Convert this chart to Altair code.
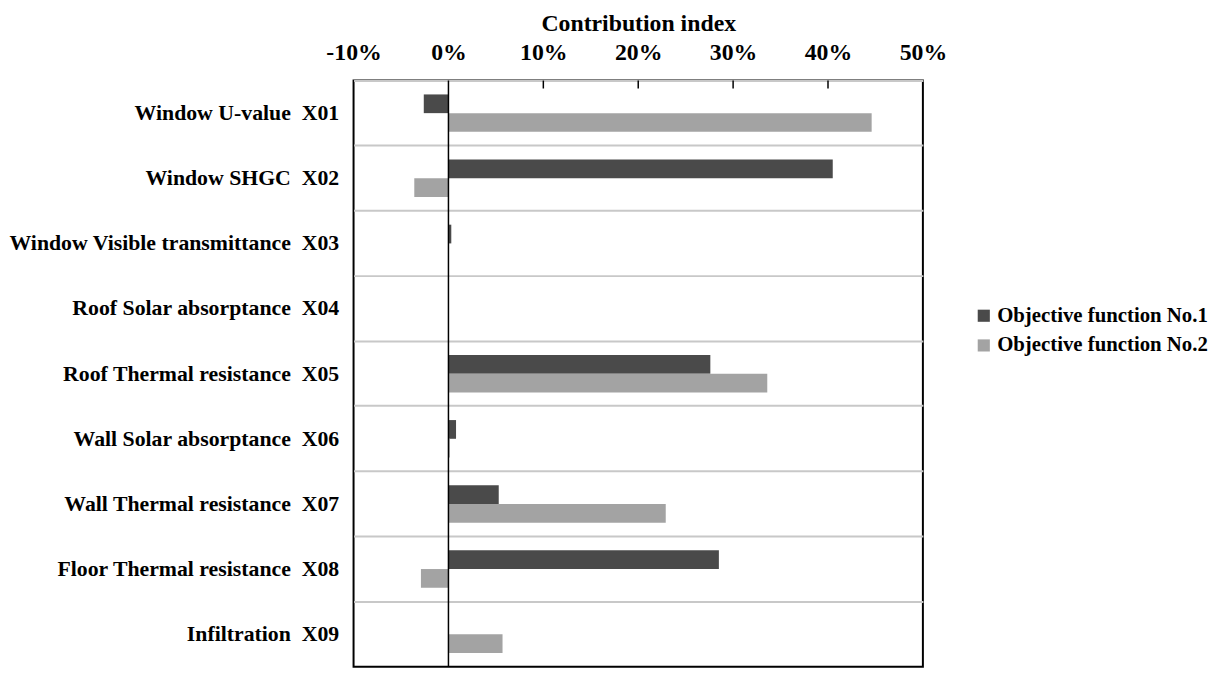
import altair as alt
import pandas as pd

categories = [
    "Window U-value\u00a0 X01",
    "Window SHGC\u00a0 X02",
    "Window Visible transmittance\u00a0 X03",
    "Roof Solar absorptance\u00a0 X04",
    "Roof Thermal resistance\u00a0 X05",
    "Wall Solar absorptance\u00a0 X06",
    "Wall Thermal resistance\u00a0 X07",
    "Floor Thermal resistance\u00a0 X08",
    "Infiltration\u00a0 X09",
]
series = ["Objective function No.1", "Objective function No.2"]
obj1 = [-2.6, 40.5, 0.3, 0.0, 27.6, 0.8, 5.3, 28.5, 0.0]
obj2 = [44.6, -3.6, 0.0, 0.0, 33.6, 0.15, 22.9, -2.9, 5.7]
tick_values = [-10, 0, 10, 20, 30, 40, 50]
inner_ticks = [10, 20, 30, 40]
colors = ["#4a4a4a", "#a3a3a3"]

rows = []
for c, a, b in zip(categories, obj1, obj2):
    rows.append({"cat": c, "series": series[0], "val": a})
    rows.append({"cat": c, "series": series[1], "val": b})
df = pd.DataFrame(rows)

FONT = "Liberation Serif"

bars = alt.Chart(df).mark_bar().encode(
    x=alt.X(
        "val:Q",
        scale=alt.Scale(domain=[-10, 50], nice=False, zero=False),
        axis=alt.Axis(
            orient="top",
            values=tick_values,
            labelExpr="datum.value + '%'",
            title="Contribution index",
            grid=False,
            ticks=False,
            domain=False,
            labelFont=FONT,
            labelFontSize=24,
            labelFontWeight="bold",
            labelColor="black",
            labelPadding=16,
            labelFlush=False,
            titleFont=FONT,
            titleFontSize=24,
            titleFontWeight="bold",
            titleColor="black",
            titlePadding=6,
        ),
    ),
    y=alt.Y(
        "cat:N",
        sort=categories,
        scale=alt.Scale(paddingInner=0, paddingOuter=0),
        axis=alt.Axis(
            title=None,
            ticks=False,
            domain=False,
            grid=True,
            bandPosition=0,
            gridColor="#c8c8c8",
            gridWidth=2,
            labelFont=FONT,
            labelFontSize=22,
            labelFontWeight="bold",
            labelColor="black",
            labelPadding=15,
            labelLimit=0,
        ),
    ),
    yOffset=alt.YOffset(
        "series:N",
        sort=series,
        scale=alt.Scale(paddingInner=0, paddingOuter=0.74),
    ),
    color=alt.Color(
        "series:N",
        sort=series,
        scale=alt.Scale(domain=series, range=colors),
        legend=alt.Legend(
            title=None,
            orient="none",
            legendX=626,
            legendY=227,
            symbolType="square",
            symbolSize=150,
            symbolStrokeWidth=0,
            labelFont=FONT,
            labelFontSize=21,
            labelFontWeight="bold",
            labelColor="black",
            labelOffset=3,
            labelLimit=0,
            rowPadding=8,
            padding=0,
        ),
    ),
)

zero_df = pd.DataFrame({"v": [0]})
zero_line = alt.Chart(zero_df).mark_rule(color="black", strokeWidth=1.5).encode(
    x=alt.X("v:Q")
)

tick_df = pd.DataFrame({"t": inner_ticks})
ticks = alt.Chart(tick_df).mark_rule(color="black", strokeWidth=1.5).encode(
    x=alt.X("t:Q"),
    y=alt.value(0),
    y2=alt.value(8),
)

chart = (
    alt.layer(bars, zero_line, ticks)
    .properties(
        width=575,
        height=592,
        padding={"top": 0, "left": 0, "right": 5, "bottom": 0},
    )
    .configure(background="white")
    .configure_view(stroke="black", strokeWidth=2)
)

chart.save("out.html", embed_options={"renderer": "svg", "actions": False})
